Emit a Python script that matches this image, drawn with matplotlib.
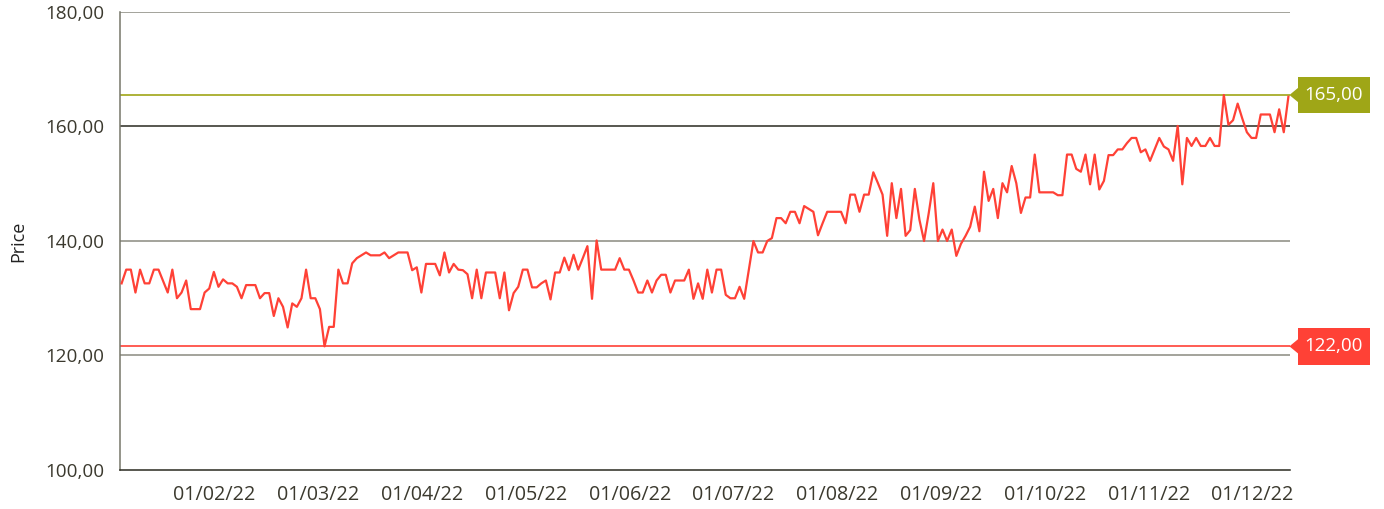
import numpy as np
import matplotlib
matplotlib.use("Agg")
import matplotlib.pyplot as plt
from matplotlib.patches import Polygon, Rectangle
from matplotlib.transforms import blended_transform_factory

# price series (one value per trading day)
prices = [
    132.6, 135.0, 135.0, 131.0, 135.0, 132.6, 132.6, 135.0, 135.0, 133.0,
    131.0, 135.0, 130.0, 131.0, 133.1, 128.1, 128.1, 128.1, 131.0, 131.7,
    134.6, 132.0, 133.3, 132.6, 132.6, 132.0, 130.0, 132.3, 132.3, 132.3,
    130.0, 130.9, 130.9, 126.9, 130.0, 128.5, 124.9, 129.1, 128.5, 130.0,
    135.0, 130.0, 130.0, 128.1, 121.6, 125.0, 125.0, 135.0, 132.6, 132.6,
    136.1, 137.0,
    137.5, 138.0, 137.5, 137.5, 137.5, 138.0, 137.0, 137.5, 138.0, 138.0,
    138.0, 134.9, 135.4, 131.0, 136.0, 136.0, 136.0, 134.0, 138.0, 134.5,
    136.0, 135.0, 134.9, 134.2, 130.0, 135.0, 130.0, 134.5, 134.5, 134.5,
    130.0, 134.5, 127.9, 130.9, 132.0, 135.0, 135.0, 131.9, 131.9, 132.6,
    133.1, 129.8, 134.5, 134.5, 137.1, 134.9, 137.6, 135.0, 137.0, 139.1,
    129.9, 140.1, 135.0, 135.0,
    135.0, 135.0, 137.0, 135.0, 135.0, 133.1, 131.0, 131.0, 133.1, 131.0,
    133.1, 134.1, 134.1, 131.0, 133.1, 133.1, 133.1, 135.0, 129.9, 132.6,
    129.9, 135.0, 131.0, 135.0, 135.0, 130.6, 130.0, 130.0, 132.0, 129.9,
    135.0, 140.0, 138.0, 138.0, 140.0, 140.5, 144.0, 144.0, 143.1, 145.1,
    145.1, 143.1, 146.1, 145.6, 145.1, 141.0, 143.1, 145.1, 145.1, 145.1,
    145.1, 143.1, 148.1, 148.1, 145.1, 148.1, 148.1, 152.0, 150.1, 148.1,
    140.9, 150.1, 144.0, 149.1, 140.9, 141.9, 149.1, 143.7, 140.0, 144.8,
    150.1, 140.0, 142.0, 140.0, 142.0, 137.4, 139.5, 140.9, 142.5, 146.0,
    141.7, 152.1, 147.0, 149.1, 144.0, 150.1, 148.5, 153.1, 150.1, 144.9,
    147.6, 147.6, 155.1, 148.5, 148.5, 148.5, 148.5, 148.0, 148.0, 155.1,
    155.1, 152.6, 152.1, 155.1, 149.9, 155.1, 149.0, 150.5, 155.0, 155.0,
    156.0, 156.0, 157.1, 158.0, 158.0, 155.5, 156.0, 154.0, 156.0, 158.0,
    156.5, 156.0, 154.0, 160.1, 149.9, 158.0, 156.6, 158.0, 156.6, 156.6,
    158.0, 156.6, 156.6, 165.5, 160.3, 161.1, 164.0, 161.4, 159.0, 158.0,
    158.0, 162.1, 162.1, 162.1, 159.0, 163.0, 159.0, 165.2,
]

date_labels = ["01/02/22", "01/03/22", "01/04/22", "01/05/22", "01/06/22",
               "01/07/22", "01/08/22", "01/09/22", "01/10/22", "01/11/22",
               "01/12/22"]
y_ticks = [100, 120, 140, 160, 180]
y_tick_labels = ["100,00", "120,00", "140,00", "160,00", "180,00"]
max_label = "165,00"
min_label = "122,00"

line_red = "#ff4136"
olive = "#9fa617"
text_col = "#3b392e"

plt.rcParams['font.family'] = ['Open Sans', 'DejaVu Sans']

fig = plt.figure(figsize=(13.84, 5.09), dpi=100)
ax = fig.add_axes([120 / 1384, 1 - 470 / 509, 1170 / 1384, 458 / 509])

x = np.arange(len(prices))
ax.plot(x, prices, color=line_red, linewidth=1.6, zorder=4)

n = len(prices)
ax.set_xlim(-0.35, n - 1 + 0.35)
ax.set_ylim(100, 180)

# grid lines
grid_colors = {120: "#8a8a80", 140: "#8a8a80", 160: "#2a2a20", 180: "#8a8a80"}
for v, c in grid_colors.items():
    ax.axhline(v, color=c, linewidth=1.1, zorder=1)

# max / min reference lines
p_max = max(prices)
p_min = min(prices)
ax.axhline(p_max, color=olive, linewidth=1.2, zorder=2)
ax.axhline(p_min, color=line_red, linewidth=1.2, zorder=2)

# flag labels on the right (box + little arrow pointing at the line)
trans = blended_transform_factory(ax.transAxes, ax.transData)
box_x0, box_w = 1.0068, 0.0615   # axes fraction
box_h = 6.4                      # data units
tri_h = 1.4
for val, lab, col in [(p_max, max_label, olive), (p_min, min_label, line_red)]:
    ax.add_patch(Rectangle((box_x0, val - box_h / 2), box_w, box_h,
                           transform=trans, facecolor=col, edgecolor='none',
                           clip_on=False, zorder=5))
    ax.add_patch(Polygon([(0.9995, val), (box_x0 + 0.001, val + tri_h),
                          (box_x0 + 0.001, val - tri_h)],
                         closed=True, transform=trans, facecolor=col,
                         edgecolor='none', clip_on=False, zorder=5))
    ax.text(box_x0 + box_w / 2, val, lab, transform=trans, ha='center',
            va='center', color='white', fontsize=13.5, zorder=6)

# axes styling
for s in ['top', 'right']:
    ax.spines[s].set_visible(False)
ax.spines['left'].set_color("#77776a")
ax.spines['bottom'].set_color("#2a2a20")
ax.spines['left'].set_linewidth(1.1)
ax.spines['bottom'].set_linewidth(1.1)

ax.set_yticks(y_ticks)
ax.set_yticklabels(y_tick_labels)
span = ax.get_xlim()[1] - ax.get_xlim()[0]
fracs = 0.0809 + 0.0887 * np.arange(len(date_labels))
ax.set_xticks(ax.get_xlim()[0] + span * fracs)
ax.set_xticklabels(date_labels)
ax.tick_params(axis='both', length=0, colors=text_col)
ax.tick_params(axis='y', pad=11.5, labelsize=13.6)
ax.tick_params(axis='x', pad=11, labelsize=14.2)

ax.set_ylabel("Price", fontsize=13, color="#222222")
ax.yaxis.set_label_coords(-0.079, 0.5)

fig.savefig("out.png", dpi=100)
